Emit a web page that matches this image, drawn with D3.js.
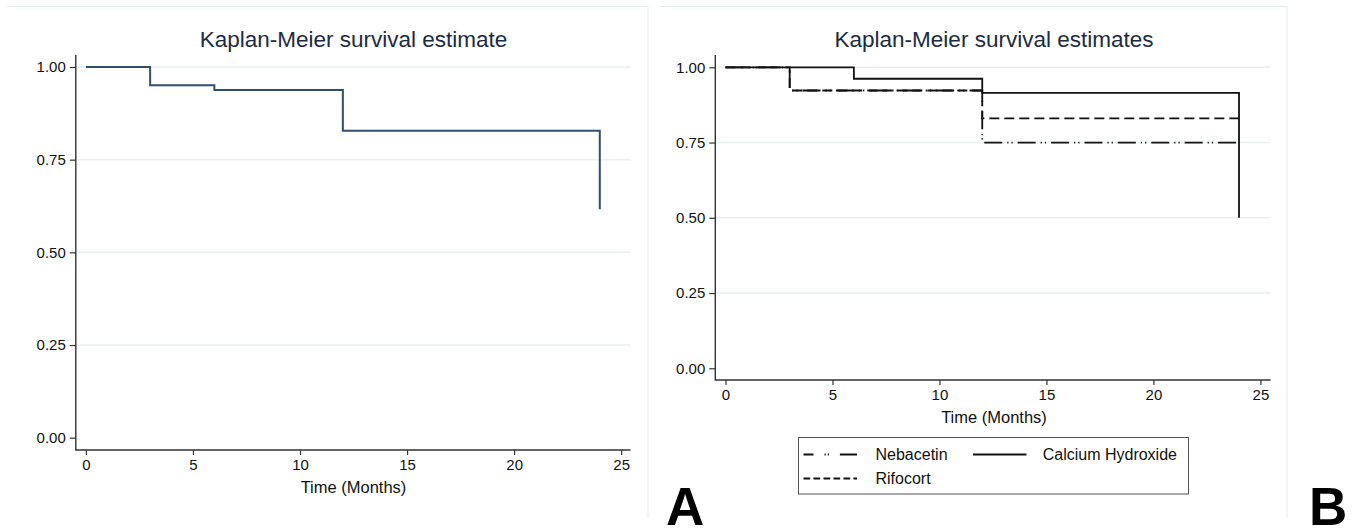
<!DOCTYPE html>
<html>
<head>
<meta charset="utf-8">
<script src="https://cdn.jsdelivr.net/npm/d3@7"></script>
<style>
  body { margin: 0; background: #fff; }
  svg { display: block; font-family: "Liberation Sans", Arial, sans-serif; }
</style>
</head>
<body>
<div id="chart"></div>
<script>
// tick values
const xTicks = [0, 5, 10, 15, 20, 25];
const yTicks = [0, 0.25, 0.5, 0.75, 1];

// panel A: overall estimate
const overallTime = [0, 3, 6, 12, 24];
const overallSurv = [1, 0.951, 0.938, 0.828, 0.616];

// panel B: by group
const groupNames = ["Nebacetin", "Calcium Hydroxide", "Rifocort"];
const nebacetinTime = [0, 3, 12, 24];
const nebacetinSurv = [1, 0.923, 0.75, 0.75];
const calciumTime = [0, 6, 12, 24];
const calciumSurv = [1, 0.962, 0.915, 0.5];
const rifocortTime = [0, 3, 12, 24];
const rifocortSurv = [1, 0.923, 0.83, 0.83];

var W = 1354, H = 532;

var svg = d3.select("#chart")
  .append("svg")
    .attr("width", W)
    .attr("height", H);

var fmt = d3.format(".2f");
var stepLine = function (x, y) {
  return d3.line()
    .x(function (d) { return x(d[0]); })
    .y(function (d) { return y(d[1]); })
    .curve(d3.curveStepAfter);
};

// draws the frame, grid and axes of one panel, returns its scales
function drawPanel(p) {
  var g = svg.append("g");

  // faint panel border (top and right only)
  g.append("path")
    .attr("d", "M" + p.border[0] + "," + 6.5 + "H" + p.border[1] + "V518")
    .attr("fill", "none")
    .attr("stroke", "#e6edef")
    .attr("stroke-width", 1);

  var x = d3.scaleLinear().domain([0, 25]).range([p.x0, p.x25]);
  var y = d3.scaleLinear().domain([0, 1]).range([p.y0, p.y1]);

  // gridlines
  g.append("g")
    .selectAll("line")
    .data(yTicks.filter(function (d) { return d > 0; }))
    .enter()
    .append("line")
      .attr("x1", p.axisX)
      .attr("x2", p.right)
      .attr("y1", function (d) { return y(d); })
      .attr("y2", function (d) { return y(d); })
      .attr("stroke", "#eaf1f3")
      .attr("stroke-width", 1.5);

  // Y axis
  var ya = g.append("g")
    .attr("transform", "translate(" + p.axisX + ",0)")
    .call(d3.axisLeft(y).tickValues(yTicks).tickFormat(fmt).tickSize(6).tickPadding(4));
  ya.select(".domain").remove();

  // X axis
  var xa = g.append("g")
    .attr("transform", "translate(0," + p.axisY + ")")
    .call(d3.axisBottom(x).tickValues(xTicks).tickSize(5).tickPadding(4));
  xa.select(".domain").remove();

  [ya, xa].forEach(function (a) {
    a.selectAll("line").attr("stroke", "#333").attr("stroke-width", 1.2);
    a.selectAll("text")
      .attr("fill", "#111")
      .style("font-size", "15px")
      .style("font-family", "'Liberation Sans', Arial, sans-serif");
  });

  // axis lines
  g.append("path")
    .attr("d", "M" + p.axisX + ",55V" + p.axisY + "H" + p.right)
    .attr("fill", "none")
    .attr("stroke", "#333")
    .attr("stroke-width", 1.4);

  // title
  g.append("text")
    .attr("x", p.cx)
    .attr("y", 47)
    .attr("text-anchor", "middle")
    .attr("fill", "#1c2b45")
    .style("font-size", "22.5px")
    .text(p.title);

  // x label
  g.append("text")
    .attr("x", p.cx)
    .attr("y", p.axisY + 42.5)
    .attr("text-anchor", "middle")
    .attr("fill", "#111")
    .style("font-size", "16.5px")
    .text("Time (Months)");

  return { x: x, y: y };
}

// ---- Panel A ----
var A = drawPanel({
  border: [7, 648], x0: 85.9, x25: 621.2, y0: 437.7, y1: 67,
  axisX: 75.8, axisY: 450, right: 630.5, cx: 353.5,
  title: "Kaplan-Meier survival estimate"
});

svg.append("path")
  .datum(d3.zip(overallTime, overallSurv))
  .attr("d", stepLine(A.x, A.y))
  .attr("fill", "none")
  .attr("stroke", "#2f4f70")
  .attr("stroke-width", 2);

// ---- Panel B ----
var B = drawPanel({
  border: [660, 1287], x0: 725.5, x25: 1260.4, y0: 368.3, y1: 67.3,
  axisX: 715.3, axisY: 380, right: 1270.6, cx: 994,
  title: "Kaplan-Meier survival estimates"
});

var groups = [
  { name: groupNames[0], time: nebacetinTime, surv: nebacetinSurv, dash: "18,5,1.2,3,1.2,5", legDash: "20,11,1.2,2,1.2,11", legOff: 10 },
  { name: groupNames[1], time: calciumTime, surv: calciumSurv, dash: null, legDash: null, legOff: 0 },
  { name: groupNames[2], time: rifocortTime, surv: rifocortSurv, dash: "10,5", legDash: "6.7,3.3", legOff: 0 }
];

svg.append("g")
  .selectAll("path")
  .data(groups)
  .enter()
  .append("path")
    .attr("d", function (d) { return stepLine(B.x, B.y)(d3.zip(d.time, d.surv)); })
    .attr("fill", "none")
    .attr("stroke", "#111")
    .attr("stroke-width", 1.8)
    .attr("stroke-dasharray", function (d) { return d.dash; });

// legend
var leg = svg.append("g");
leg.append("rect")
  .attr("x", 798.5).attr("y", 437.5)
  .attr("width", 390).attr("height", 56.5)
  .attr("fill", "#fff")
  .attr("stroke", "#555")
  .attr("stroke-width", 1);

var legPos = [
  { lx: 803.5, tx: 875.5, ty: 460 },
  { lx: 973, tx: 1042.7, ty: 460 },
  { lx: 803.5, tx: 875.5, ty: 484 }
];

groups.forEach(function (d, i) {
  var pos = legPos[i];
  leg.append("line")
    .attr("x1", pos.lx).attr("x2", pos.lx + 53.5)
    .attr("y1", pos.ty - 5.5).attr("y2", pos.ty - 5.5)
    .attr("stroke", "#111")
    .attr("stroke-width", 1.8)
    .attr("stroke-dasharray", d.legDash)
    .attr("stroke-dashoffset", d.legOff);
  leg.append("text")
    .attr("x", pos.tx).attr("y", pos.ty)
    .attr("fill", "#111")
    .style("font-size", "16px")
    .text(d.name);
});

// panel letters
svg.selectAll(".letter")
  .data([["A", 666], ["B", 1309]])
  .enter()
  .append("text")
    .attr("class", "letter")
    .attr("x", function (d) { return d[1]; })
    .attr("y", 525)
    .attr("fill", "#000")
    .style("font-size", "53px")
    .style("font-weight", "bold")
    .text(function (d) { return d[0]; });
</script>
</body>
</html>
